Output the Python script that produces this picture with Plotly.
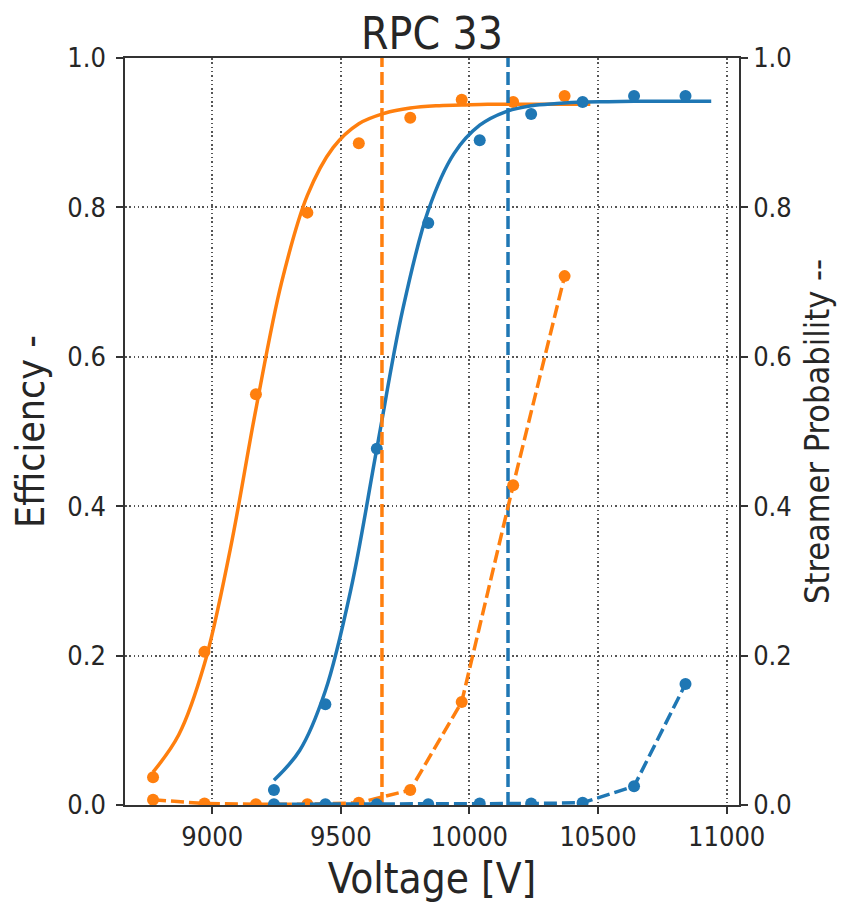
import plotly.graph_objects as go

# ---------------- data ----------------
volt_orange = [8770, 8970, 9170, 9370, 9570, 9770, 9970, 10170, 10370]
eff_orange = [0.037, 0.205, 0.550, 0.793, 0.886, 0.920, 0.944, 0.941, 0.949]
streamer_orange = [0.007, 0.002, 0.001, 0.001, 0.003, 0.020, 0.138, 0.428, 0.708]

volt_blue = [9240, 9440, 9640, 9840, 10040, 10240, 10440, 10640, 10840]
eff_blue = [0.020, 0.135, 0.477, 0.779, 0.890, 0.925, 0.941, 0.949, 0.949]
streamer_blue = [0.001, 0.001, 0.001, 0.001, 0.002, 0.002, 0.003, 0.025, 0.162]

# fitted efficiency curves
fit_volt_orange = [8770, 8870, 8970, 9070, 9170, 9270, 9370, 9470, 9570,
                   9670, 9770, 9870, 9970, 10070, 10170, 10270, 10370, 10470]
fit_eff_orange = [0.044, 0.094, 0.189, 0.342, 0.530, 0.700, 0.816, 0.880, 0.912,
                  0.926, 0.933, 0.936, 0.937, 0.938, 0.938, 0.938, 0.938, 0.938]

fit_volt_blue = [9240, 9340, 9440, 9540, 9640, 9740, 9840, 9940, 10040,
                 10140, 10240, 10340, 10440, 10540, 10640, 10740, 10840, 10940]
fit_eff_blue = [0.033, 0.073, 0.153, 0.290, 0.477, 0.662, 0.796, 0.872, 0.910,
                0.928, 0.936, 0.939, 0.941, 0.9415, 0.942, 0.942, 0.942, 0.942]

# working points (vertical dashed lines)
wp_orange = 9660
wp_blue = 10150

x_ticks = [9000, 9500, 10000, 10500, 11000]
y_ticks = [0.0, 0.2, 0.4, 0.6, 0.8, 1.0]

# ---------------- styling ----------------
BLUE = "#1f77b4"
ORANGE = "#ff7f0e"
TXT = "#262626"
FONT = "DejaVu Sans Condensed, DejaVu Sans"
DASH = "13px,5px"
LW = 3.5
MS = 12

fig = go.Figure()

fig.add_trace(go.Scatter(x=fit_volt_orange, y=fit_eff_orange, mode="lines",
                         line=dict(color=ORANGE, width=LW, shape="spline"),
                         showlegend=False, yaxis="y"))
fig.add_trace(go.Scatter(x=volt_orange, y=eff_orange, mode="markers",
                         marker=dict(color=ORANGE, size=MS),
                         showlegend=False, yaxis="y"))
fig.add_trace(go.Scatter(x=fit_volt_blue, y=fit_eff_blue, mode="lines",
                         line=dict(color=BLUE, width=LW, shape="spline"),
                         showlegend=False, yaxis="y"))
fig.add_trace(go.Scatter(x=volt_blue, y=eff_blue, mode="markers",
                         marker=dict(color=BLUE, size=MS),
                         showlegend=False, yaxis="y"))

fig.add_trace(go.Scatter(x=[wp_orange, wp_orange], y=[0, 1], mode="lines",
                         line=dict(color=ORANGE, width=LW, dash=DASH),
                         showlegend=False, yaxis="y"))
fig.add_trace(go.Scatter(x=[wp_blue, wp_blue], y=[0, 1], mode="lines",
                         line=dict(color=BLUE, width=LW, dash=DASH),
                         showlegend=False, yaxis="y"))

fig.add_trace(go.Scatter(x=volt_orange, y=streamer_orange, mode="lines+markers",
                         line=dict(color=ORANGE, width=LW, dash=DASH),
                         marker=dict(color=ORANGE, size=MS),
                         showlegend=False, yaxis="y2"))
fig.add_trace(go.Scatter(x=volt_blue, y=streamer_blue, mode="lines+markers",
                         line=dict(color=BLUE, width=LW, dash=DASH),
                         marker=dict(color=BLUE, size=MS),
                         showlegend=False, yaxis="y2"))

grid = dict(showgrid=True, gridcolor="#555555", gridwidth=1.5, griddash="1.5px,2.8px")
axis_common = dict(showline=True, linecolor="#333333", linewidth=1.5, automargin=False,
                   ticks="outside", ticklen=7, tickwidth=1.5, tickcolor="#333333",
                   tickfont=dict(family=FONT, size=27, color=TXT), zeroline=False)

fig.update_layout(
    width=846, height=907,
    paper_bgcolor="white", plot_bgcolor="white",
    margin=dict(l=117, r=115, t=50, b=110),
    font=dict(family=FONT, color=TXT),
    title=dict(text="RPC 33", x=(125 + 739) / 2 / 846 - 8 / 846, xanchor="center",
               y=1 - 26 / 907, yanchor="middle",
               yref="container", automargin=False,
               font=dict(family=FONT, size=44, color=TXT)),
    xaxis=dict(range=[8661, 11048], tickvals=x_ticks, ticktext=[str(t) for t in x_ticks],
               mirror=True,
               title=dict(text="Voltage [V]", font=dict(family=FONT, size=42, color=TXT), standoff=12),
               **grid, **axis_common),
    yaxis=dict(range=[0, 1], tickvals=y_ticks, tickformat=".1f", ticklabelstandoff=5,
               title=dict(text="Efficiency -", font=dict(family=FONT, size=39, color=TXT), standoff=14),
               **grid, **axis_common),
    yaxis2=dict(range=[0, 1], tickvals=y_ticks, tickformat=".1f", overlaying="y", side="right",
                showgrid=False,
                title=dict(text="Streamer Probability --", font=dict(family=FONT, size=34, color=TXT), standoff=14),
                **axis_common),
)

fig.write_html("out.html")
